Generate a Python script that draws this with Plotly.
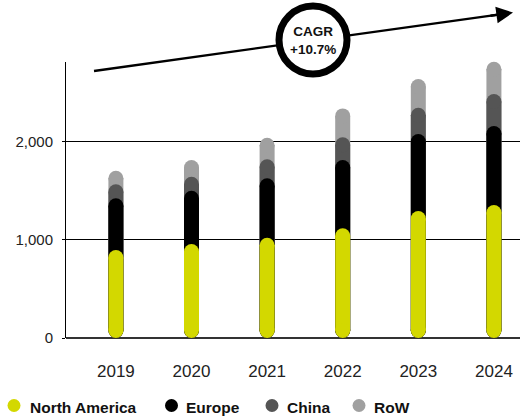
import plotly.graph_objects as go

# Sales by region (stacked), values per year
years = ["2019", "2020", "2021", "2022", "2023", "2024"]
north_america = [895, 956, 1020, 1116, 1292, 1353]
europe = [526, 542, 605, 695, 783, 804]
china = [142, 143, 193, 231, 268, 325]
row = [139, 170, 220, 294, 292, 329]

region_names = ["North America", "Europe", "China", "RoW"]
region_colors = ["#D3D800", "#000000", "#555555", "#A0A0A0"]

y_ticks = [0, 1000, 2000]
y_tick_text = ["0", "1,000", "2,000"]
cagr_text = "CAGR<br>+10.7%"

# Page / plot geometry
W, H = 520, 419
M_L, M_R, M_T, M_B = 66, 0, 62, 81
PLOT_W = W - M_L - M_R
PLOT_H = H - M_T - M_B
Y_MAX = 2808
X_RANGE = [-0.66, 5.345]
BAR_W = 15  # capsule thickness in px

units_per_px = Y_MAX / PLOT_H
cap_r = (BAR_W / 2) * units_per_px

# cumulative tops of each stacked layer
series = [north_america, europe, china, row]
cum = []
running = [0] * len(years)
for s in series:
    running = [a + b for a, b in zip(running, s)]
    cum.append(list(running))

fig = go.Figure()

# draw back to front: RoW first, North America last, each as a rounded capsule
for idx in reversed(range(len(series))):
    xs, ys = [], []
    for i, top in enumerate(cum[idx]):
        xs += [i, i, None]
        ys += [cap_r, top - cap_r, None]
    fig.add_trace(go.Scatter(
        x=xs, y=ys, mode="lines+markers",
        line=dict(color=region_colors[idx], width=BAR_W),
        marker=dict(color=region_colors[idx], size=BAR_W, line=dict(width=0)),
        name=region_names[idx], showlegend=False, hoverinfo="skip",
        cliponaxis=False,
    ))

def px_to_paper(px, py):
    return (px - M_L) / PLOT_W, (M_T + PLOT_H - py) / PLOT_H

shapes = []
annotations = []

# CAGR trend arrow: shaft, then circle badge on top of it
x0p, y0p = px_to_paper(94, 71)
x1p, y1p = px_to_paper(500, 14.4)
shapes.append(dict(type="line", xref="paper", yref="paper",
                   x0=x0p, y0=y0p, x1=x1p, y1=y1p,
                   line=dict(color="#000000", width=2.3), layer="above"))
cx, cy = px_to_paper(313, 40)
shapes.append(dict(type="circle", xref="paper", yref="paper",
                   xsizemode="pixel", ysizemode="pixel",
                   xanchor=cx, yanchor=cy, x0=-34, x1=34, y0=-34, y1=34,
                   fillcolor="#FFFFFF", line=dict(color="#000000", width=7),
                   layer="above"))
hx, hy = px_to_paper(513, 12.6)
annotations.append(dict(xref="paper", yref="paper", x=hx, y=hy,
                        ax=-24, ay=3.35, showarrow=True, arrowhead=2,
                        arrowsize=1.45, arrowwidth=2.3, arrowcolor="#000000",
                        text=""))
annotations.append(dict(xref="paper", yref="paper", x=cx, y=cy,
                        text=cagr_text, showarrow=False,
                        font=dict(family="Liberation Sans", size=13.5,
                                  color="#111111", weight="bold"),
                        align="center", xanchor="center", yanchor="middle"))

# legend row
legend_pos = [(14, 28), (171.5, 184), (272, 285), (359, 372)]
for (mx, tx), name, color in zip(legend_pos, region_names, region_colors):
    lx, ly = px_to_paper(mx, 405.5)
    shapes.append(dict(type="circle", xref="paper", yref="paper",
                       xsizemode="pixel", ysizemode="pixel",
                       xanchor=lx, yanchor=ly, x0=-6.5, x1=6.5, y0=-6.5, y1=6.5,
                       fillcolor=color, line=dict(width=0)))
    tpx, tpy = px_to_paper(tx, 407)
    annotations.append(dict(xref="paper", yref="paper", x=tpx, y=tpy,
                            text=name, showarrow=False, xanchor="left",
                            yanchor="middle",
                            font=dict(family="Liberation Sans", size=15.5,
                                      color="#111111", weight="bold")))

fig.update_layout(
    width=W, height=H,
    margin=dict(l=M_L, r=M_R, t=M_T, b=M_B, pad=0),
    paper_bgcolor="#FFFFFF", plot_bgcolor="#FFFFFF",
    showlegend=False,
    shapes=shapes, annotations=annotations,
    xaxis=dict(range=X_RANGE, tickmode="array", tickvals=list(range(len(years))),
               ticktext=years, showgrid=False, zeroline=False, showline=False,
               ticks="", ticklabelstandoff=21, fixedrange=True,
               tickfont=dict(family="Liberation Sans", size=17, color="#222222")),
    yaxis=dict(range=[0, Y_MAX], tickmode="array", tickvals=y_ticks,
               ticktext=y_tick_text, showgrid=True, gridcolor="#000000",
               gridwidth=1, zeroline=True, zerolinecolor="#333333",
               zerolinewidth=1.5, showline=True, linecolor="#000000",
               linewidth=1, ticks="outside", ticklen=3, tickcolor="#000000",
               ticklabelstandoff=6, fixedrange=True,
               tickfont=dict(family="Liberation Sans", size=15, color="#222222")),
)

fig.write_html("out.html")
